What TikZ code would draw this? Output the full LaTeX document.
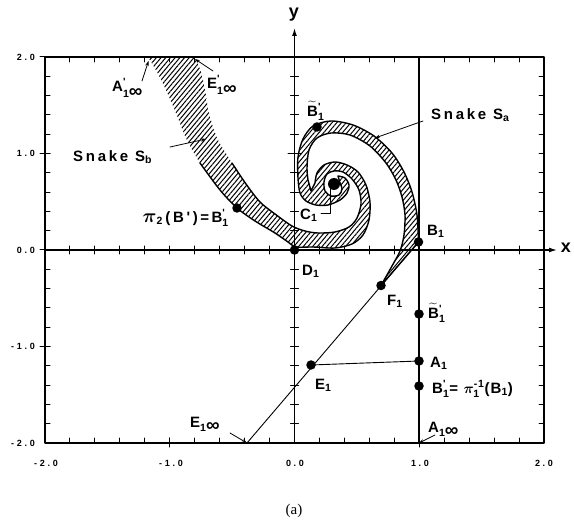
\documentclass[tikz,border=0pt]{standalone}
\usepackage{fontspec}
\usepackage{amsmath}
\usepackage{bm}
\usepackage{graphicx}
\setmainfont{Liberation Sans}
\newfontfamily\labf{Liberation Sans}[LetterSpace=18]
\newfontfamily\labn{Liberation Sans}[LetterSpace=8]
\newfontfamily\tickf{Liberation Sans}[LetterSpace=30]
\newfontfamily\capf{Liberation Serif}
\newcommand\labfont{\labf\bfseries\fontsize{15}{17}\selectfont}
\newcommand\labnfont{\labn\bfseries\fontsize{15}{17}\selectfont}
\newcommand\tickfont{\tickf\bfseries\fontsize{9}{10}\selectfont}
\newcommand\supsub[2]{\ensuremath{^{\text{#1}}_{\text{#2}}}}
\newcommand\infsym{{\fontsize{19}{19}\selectfont ∞}}
\newcommand\bigpi{\scalebox{1.35}{\ensuremath{\bm{\pi}}}}
\usetikzlibrary{patterns.meta,arrows.meta}
\begin{document}
\begin{tikzpicture}[x=1pt,y=-1pt,line cap=round,line join=round,
  frame/.style={line width=1.3pt},
  tk/.style={line width=1pt},
  dot/.style={circle,fill=black,inner sep=0pt,minimum size=9.5pt},
  lab/.style={font=\labfont,inner sep=0pt,anchor=west},
  ticklab/.style={font=\tickfont,inner sep=0pt},
  band/.style={pattern={Lines[angle=50,distance=3.6pt,line width=1pt]}},
  edgeline/.style={line width=1.4pt},
  thinline/.style={line width=0.9pt},
  lead/.style={line width=0.8pt,-{Stealth[length=5pt,width=3.5pt]}}]
\useasboundingbox (0,0) rectangle (574,524);
% frame
\draw[frame] (45,57) rectangle (544,443);
% ticks
\foreach \i in {-9,...,9}{
  \pgfmathsetmacro\xx{294.5+24.95*\i}
  \pgfmathsetmacro\yy{250+19.3*\i}
  \draw[tk] (\xx,57) -- (\xx,62);
  \draw[tk] (\xx,443) -- (\xx,438);
  \draw[tk] (45,\yy) -- (50,\yy);
  \draw[tk] (544,\yy) -- (539,\yy);
  \ifnum\i=0 \else
    \draw[tk] (\xx,246) -- (\xx,254);
    \draw[tk] (290.5,\yy) -- (298.5,\yy);
  \fi
}
\foreach \yy in {57,153.5,250,346.5}{\draw[tk] (40,\yy) -- (50,\yy);}
\foreach \xx in {169.75,419.25}{\draw[tk] (\xx,447) -- (\xx,438);}
\draw[tk] (288,153.5) -- (301,153.5);
% tick labels
\node[ticklab,anchor=east] (ly2) at (35,57) {2.0};
\node[ticklab,anchor=east] (ly1) at (35,153.5) {1.0};
\node[ticklab,anchor=east] (ly0) at (35,250) {0.0};
\node[ticklab,anchor=east] (lym1) at (35,346.5) {-1.0};
\node[ticklab,anchor=east] (lym2) at (35,443) {-2.0};
\node[ticklab] (lxm2) at (46,463) {-2.0};
\node[ticklab] (lxm1) at (171,463) {-1.0};
\node[ticklab] (lx0) at (295,463) {0.0};
\node[ticklab] (lx1) at (420,463) {1.0};
\node[ticklab] (lx2) at (544,463) {2.0};
% axes
\coordinate (xs) at (45,250);
\coordinate (xe) at (557,250);
\coordinate (ys) at (294.5,443);
\coordinate (ye) at (294.5,28);
\draw[frame,-{Latex[length=8pt,width=5pt]}] (xs) -- (xe);
\draw[frame,-{Latex[length=8pt,width=5pt]}] (ys) -- (ye);
\node[font=\bfseries\fontsize{18}{18}\selectfont,inner sep=0pt] (xl) at (566,248) {x};
\node[font=\bfseries\fontsize{18}{18}\selectfont,inner sep=0pt] (yl) at (294,15) {y};
% x = 1 line
\coordinate (vt) at (419,57);
\coordinate (vb) at (419,443);
\draw[line width=1.1pt] (vt) -- (vb);
% points
\node[dot] (B1) at (418.5,242) {};
\node[dot] (F1) at (381,285.5) {};
\node[dot] (Bt) at (419,314) {};
\node[dot] (A1) at (419,361) {};
\node[dot] (E1) at (311,365) {};
\node[dot] (Bp) at (419,386) {};
\coordinate (E1inf) at (247,443);
\coordinate (A1inf) at (419,443);
\draw[thinline] (E1inf) -- (B1.center);
\draw[thinline] (E1.center) -- (A1.center);
% snakes Sa and Sb (one hatched region)
\path[band]
  plot[smooth] coordinates {(148,57) (157,72) (166,90) (176,113) (186,138) (200,163) (220,190) (237,208) (255,221) (275,233) (288,242) (296,247) (313,247) (335,248) (352,244) (363,235) (369,220) (370,202) (366,185) (358,172) (347,165) (335,162) (324,165) (317,173) (315,183)}
  -- (311,191)
  -- plot[smooth] coordinates {(308,180) (307,168) (309,150) (317,138) (331,133) (350,135) (370,146) (386,163) (396,180) (402,197) (405,215) (404,235) (400,251) (392,266) (381,285.5)}
  -- plot[smooth] coordinates {(418.5,242) (417,215) (412,192) (404,172) (392,153) (374,136) (353,125) (331,121) (313,126) (303,139) (298,157) (298,178) (300,193) (306,201) (316,205) (328,205) (340,200) (347,193) (349,185) (345,178) (338,176)}
  -- plot[smooth] coordinates {(340,183) (342,189) (339,195) (331,196) (325,191) (324,182) (327,174) (334,171) (343,172) (352,179) (359,190) (361,204) (357,218) (349,227) (335,232) (318,233) (305,231) (292,226) (275,214) (260,202) (246,184) (232,163) (217,138) (209,113) (205,90) (201,72) (195,57)}
  -- cycle;
% outlines
\draw[edgeline]
  plot[smooth] coordinates {(200,163) (220,190) (237,208) (255,221) (275,233) (288,242) (296,247) (313,247) (335,248) (352,244) (363,235) (369,220) (370,202) (366,185) (358,172) (347,165) (335,162) (324,165) (317,173) (315,183)}
  -- (311,191)
  -- plot[smooth] coordinates {(308,180) (307,168) (309,150) (317,138) (331,133) (350,135) (370,146) (386,163) (396,180) (402,197) (405,215) (404,235) (400,251) (392,266) (381,285.5)}
  -- plot[smooth] coordinates {(418.5,242) (417,215) (412,192) (404,172) (392,153) (374,136) (353,125) (331,121) (313,126) (303,139) (298,157) (298,178) (300,193) (306,201) (316,205) (328,205) (340,200) (347,193) (349,185) (345,178) (338,176)}
  -- plot[smooth] coordinates {(340,183) (342,189) (339,195) (331,196) (325,191) (324,182) (327,174) (334,171) (343,172) (352,179) (359,190) (361,204) (357,218) (349,227) (335,232) (318,233) (305,231) (292,226) (275,214) (260,202) (246,184) (232,163)};
% points on snakes
\node[dot,minimum size=12pt] (C1) at (334,184) {};
\node[dot] (Bt2) at (317,127) {};
\node[dot] (Bp2) at (237,208) {};
\node[dot] (D1) at (294.5,250) {};
% labels
\node[lab] (SaL) at (431,115) {Snake S\textsubscript{a}};
\node[lab] (SbL) at (73,157) {Snake S\textsubscript{b}};
\coordinate (SaS) at (423,121);
\coordinate (SaT) at (375,138);
\draw[lead] (SaS) -- (SaT);
\coordinate (SbS) at (170,147);
\coordinate (SbT) at (206,139);
\draw[lead] (SbS) -- (SbT);
\node[lab] (Apinf) at (112,88) {A\supsub{'}{1\infsym}};
\coordinate (ApS) at (142,81);
\coordinate (ApT) at (148.5,61);
\draw[lead] (ApS) -- (ApT);
\node[lab] (Epinf) at (207,85) {E\supsub{'}{1\infsym}};
\coordinate (EpS) at (213,71);
\coordinate (EpT) at (195,59);
\draw[lead] (EpS) -- (EpT);
\node[lab] (Einf) at (190,424) {E\textsubscript{1\infsym}};
\coordinate (EiS) at (230,433);
\draw[lead] (EiS) -- (E1inf);
\node[lab] (Ainf) at (428,429) {A\textsubscript{1\infsym}};
\coordinate (AiS) at (435,435);
\draw[lead] (AiS) -- (A1inf);
\node[lab] (B1L) at (427,231) {B\textsubscript{1}};
\node[lab] (D1L) at (302,271) {D\textsubscript{1}};
\node[lab] (F1L) at (387,301) {F\textsubscript{1}};
\node[lab] (BtL) at (428,313) {\ensuremath{\widetilde{\text{B}}}\supsub{'}{1}};
\node[lab] (A1L) at (430,363) {A\textsubscript{1}};
\node[lab] (E1L) at (315,385) {E\textsubscript{1}};
\node[lab,font=\labnfont] (BpL) at (432,389) {B\supsub{'}{1}= \ensuremath{\bm{\pi}^{\text{-1}}_{\text{1}}}(B\textsubscript{1})};
\node[lab] (Bt2L) at (307,111) {\ensuremath{\widetilde{\text{B}}}\supsub{'}{1}};
\node[lab,anchor=east] (Bp2L) at (229,218) {\bigpi\textsubscript{2}\,(B')\,=\,B\supsub{'}{1}};
\node[lab] (C1L) at (300,215) {C\textsubscript{1}};
\coordinate (C1a) at (321,213);
\coordinate (C1b) at (330,213);
\draw[thinline] (C1a) -- (C1b) -- (C1.center -| C1b);
% caption
\node[font=\capf\fontsize{15}{15}\selectfont,inner sep=0pt] (cap) at (294,511) {(a)};
\end{tikzpicture}
\end{document}
